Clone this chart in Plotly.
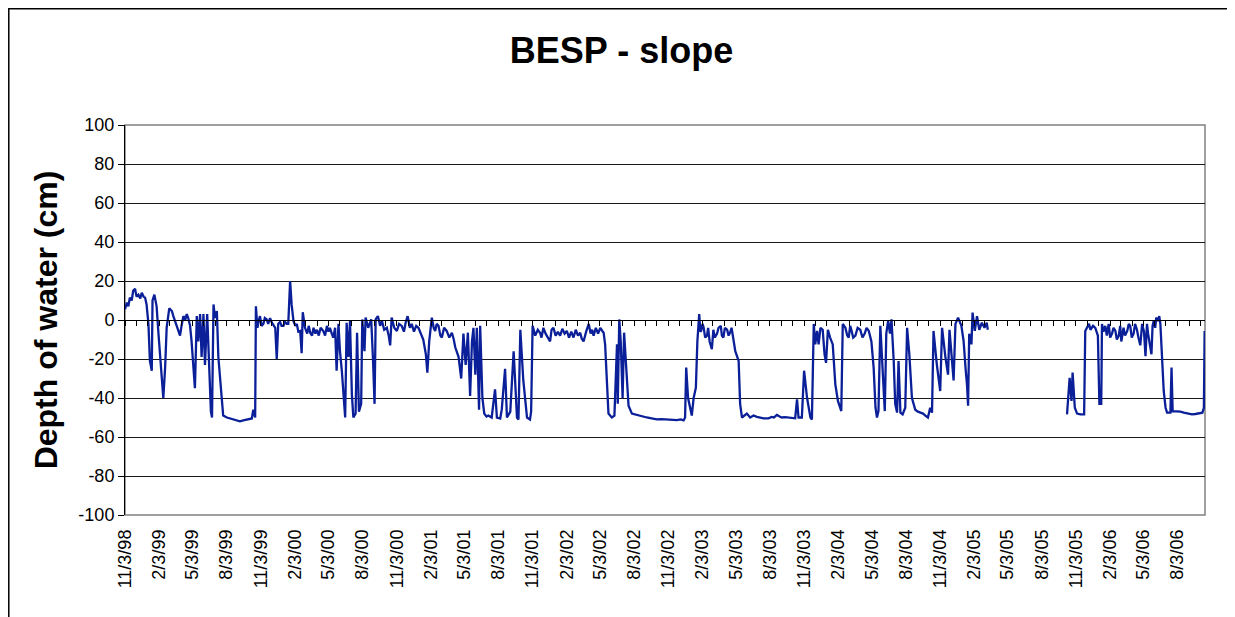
import pandas as pd
import plotly.graph_objects as go

# days after 11/3/98 and water depth (cm); None marks the data gap in 2005
days = [
    0, 5, 9, 13, 18, 22, 27, 31, 36, 41, 45, 50, 54, 58, 63, 67, 72, 74, 79, 85,
    90, 96, 103, 108, 112, 119, 126, 130, 134, 141, 148, 152, 157, 162, 166, 170, 175, 179, 188, 193,
    197, 202, 206, 211, 215, 221, 227, 231, 234, 238, 242, 247, 251, 260, 264, 274, 282, 291, 300, 309,
    318, 327, 335, 341, 345, 350, 352, 356, 360, 363, 367, 372, 376, 381, 385, 390, 395, 400, 404, 408,
    412, 417, 421, 426, 430, 435, 439, 444, 448, 453, 458, 462, 466, 471, 475, 478, 484, 490, 494, 498,
    503, 507, 512, 516, 521, 526, 533, 538, 543, 547, 551, 556, 560, 565, 569, 574, 578, 583, 587, 592,
    596, 601, 605, 610, 614, 620, 624, 629, 635, 638, 644, 647, 654, 662, 667, 671, 674, 680, 686, 691,
    697, 704, 709, 713, 717, 724, 731, 737, 744, 750, 755, 760, 766, 771, 777, 783, 789, 795, 802, 809,
    813, 818, 825, 830, 834, 838, 843, 848, 852, 858, 865, 872, 879, 884, 888, 897, 904, 910, 916, 922,
    928, 933, 937, 942, 946, 952, 955, 961, 966, 972, 977, 986, 995, 1000, 1009, 1013, 1022, 1027, 1036, 1045,
    1054, 1058, 1063, 1071, 1081, 1089, 1092, 1096, 1099, 1103, 1110, 1116, 1120, 1125, 1131, 1139, 1143, 1147, 1152, 1158,
    1164, 1170, 1176, 1182, 1188, 1194, 1200, 1206, 1212, 1218, 1224, 1228, 1233, 1240, 1247, 1252, 1256, 1260, 1266, 1272,
    1278, 1283, 1287, 1291, 1296, 1300, 1309, 1316, 1320, 1323, 1325, 1329, 1333, 1338, 1342, 1348, 1354, 1363, 1372, 1381,
    1392, 1403, 1416, 1430, 1443, 1457, 1470, 1484, 1494, 1502, 1506, 1509, 1514, 1520, 1524, 1529, 1535, 1539, 1544, 1547,
    1549, 1553, 1556, 1560, 1565, 1568, 1572, 1578, 1582, 1586, 1592, 1596, 1602, 1605, 1609, 1613, 1619, 1623, 1627, 1631,
    1635, 1641, 1650, 1654, 1659, 1665, 1672, 1681, 1690, 1699, 1708, 1717, 1730, 1739, 1745, 1753, 1760, 1766, 1775, 1784,
    1793, 1802, 1807, 1811, 1820, 1826, 1834, 1843, 1847, 1852, 1856, 1861, 1865, 1870, 1876, 1881, 1885, 1890, 1896, 1903,
    1910, 1917, 1926, 1930, 1937, 1942, 1946, 1950, 1953, 1958, 1964, 1970, 1977, 1983, 1989, 1994, 2000, 2007, 2013, 2018,
    2022, 2026, 2031, 2037, 2043, 2047, 2052, 2057, 2061, 2067, 2071, 2076, 2080, 2085, 2091, 2098, 2103, 2109, 2116, 2125,
    2132, 2139, 2146, 2152, 2159, 2165, 2170, 2174, 2183, 2192, 2197, 2206, 2213, 2217, 2224, 2228, 2233, 2240, 2249, 2255,
    2260, 2264, 2267, 2270, 2276, 2279, 2285, 2291, 2297, 2304, 2311, 2317, 2320, 2420,
    2533, 2540, 2545, 2548, 2554, 2560, 2569, 2579, 2582, 2587, 2592, 2596, 2603, 2609, 2616, 2620, 2625, 2627, 2631, 2636,
    2640, 2645, 2649, 2654, 2658, 2663, 2667, 2672, 2676, 2679, 2685, 2689, 2695, 2699, 2703, 2707, 2712, 2716, 2721, 2725,
    2730, 2735, 2740, 2744, 2748, 2751, 2755, 2760, 2763, 2766, 2770, 2773, 2778, 2781, 2784, 2789, 2793, 2798, 2802, 2811,
    2814, 2817, 2829, 2838, 2847, 2858, 2869, 2878, 2886, 2897, 2901, 2903,
]
depth = [
    5.5, 9, 7, 11.5, 10, 15, 16, 12, 13, 11, 14, 12, 11.5, 8, -2, -21, -26, 10, 13, 7,
    -7, -24, -40, -24, -4, 6, 4.6, 2, -0.5, -4, -8, -3, 2, 0, 3, 1, -3, -11, -35, 2,
    -11, 3, -19, 3, -23, 3, -26, -47, -50, 8, 1, 4.6, -19, -41.5, -49, -50, -50.5, -51, -51.5, -52,
    -51.5, -51, -50.5, -50.5, -46, -50, 7, -4, 0, 2, -3, -2, 1, 0.3, -2, 1, -1.4, -3, -4, -20,
    -2, -1, -3, -3, -1, -2, -2, 20, 8, -0.5, -3, -2, -6, -5.6, -17, 4, -4, -7, -3, -6.5,
    -8, -4, -7, -5, -8, -4, -5.6, -8, -3, -6, -4, -7, -9, -4, -26, -2, -16, -26, -36, -50,
    -1.4, -19, -0.5, -38, -50, -48, -6.5, -47, -43, 0.3, -16, 1.2, -4, 0.3, -21, -43, 0.3, 2, -3, -0.5,
    -5, -4, -8, -13, 1.2, -4, -5.6, -2, -3, -6, -1, 2, -4, -2, -6, -3, -4, -7, -10, -17.6,
    -27, -11, 1.2, -4, -5.6, -2, -3, -8, -9, -4, -5.6, -9, -6.5, -10, -14, -19, -30, -7, -23, -6.5,
    -39, -11, -4, -28, -4, -46, -3, -40, -48, -49.5, -49, -50, -35.6, -50, -50.5, -46, -25, -50, -47, -16,
    -50, -51, -5, -31, -50, -51, -47, -3, -6, -8, -5, -6.5, -9, -4, -7, -10, -11, -5, -4, -8,
    -6, -8, -4.5, -7, -5.6, -9, -6, -9, -5, -8, -6.5, -9.5, -11, -6, -2, -7, -5, -8, -4, -7,
    -4, -5.5, -6.5, -12.5, -31, -48, -50, -49, -28, -12.5, -43, 0.3, -11, -40, -6.5, -26, -44, -48, -48.5, -49,
    -49.5, -50, -50.5, -51, -50.8, -51, -51.2, -51.3, -51, -51.5, -50, -24.4, -40, -45, -49, -40, -34.7, -11, 3, -6,
    -5.6, -2, -4, -9, -8, -4, -11, -15, -5, -9, -7, -4, -3, -8, -9, -4, -5, -8, -6.5, -4,
    -9, -16, -21, -43, -50, -49, -48, -50, -49, -49.7, -50, -50.4, -50.4, -49.7, -50, -48.7, -49.5, -50, -49.8, -50,
    -50.2, -50.4, -40.7, -50, -50, -26, -40, -50, -51, -2, -12.5, -5.6, -12.5, -4, -5, -17.6, -22, -5, -9, -12.5,
    -33, -41.5, -46.7, -2, -4, -8, -9, -3, -5, -9, -8, -4, -5, -9, -7, -4, -5.6, -11, -24.4, -45,
    -50, -46.7, -3, -24.4, -46.7, -7, -0.5, -7, 0.3, -21, -43, -47.5, -21, -47.5, -48.4, -45, -4, -17.6, -40, -46,
    -47, -47.5, -48, -49, -50, -45, -47.5, -5.6, -23, -36.4, -4, -19, -28, -5, -19, -31, -2, 1.2, -3, -11,
    -24.4, -33, -44, -7, -12.5, 3.8, -5.6, 2, -5, -1.4, -4, -1.4, -5, None,
    -48.4, -29.6, -41.5, -27, -45, -48, -48.4, -48.4, -5.6, -4, -2, -5, -3, -4, -8, -43, -43, -2, -6, -3,
    -8, -2, -9, -7, -4, -5.6, -10, -8, -3, -11, -4, -8, -5.6, -2, -3, -9, -7, -2, -5, -9,
    -13, -2, -6, -18.5, -2, -7, -11, -17.6, -3, -0.5, -4, 1.2, -0.5, 2, -2, -19, -36.4, -45, -47.5, -47.5,
    -24.4, -46.7, -46.7, -47, -47.5, -48, -48.4, -48.2, -48, -47.5, -45, -5.6,
]

start_date = "1998-11-03"
tick_labels = [
    "11/3/98", "2/3/99", "5/3/99", "8/3/99", "11/3/99", "2/3/00", "5/3/00", "8/3/00",
    "11/3/00", "2/3/01", "5/3/01", "8/3/01", "11/3/01", "2/3/02", "5/3/02", "8/3/02",
    "11/3/02", "2/3/03", "5/3/03", "8/3/03", "11/3/03", "2/3/04", "5/3/04", "8/3/04",
    "11/3/04", "2/3/05", "5/3/05", "8/3/05", "11/3/05", "2/3/06", "5/3/06", "8/3/06",
]
y_ticks = [-100, -80, -60, -40, -20, 0, 20, 40, 60, 80, 100]
y_tick_labels = ["-100", "-80", "-60", "-40", "-20", "0", "20", "40", "60", "80", "100"]

dates = pd.to_datetime(start_date) + pd.to_timedelta(days, unit="D")
tick_dates = pd.to_datetime(tick_labels, format="%m/%d/%y")
x_range = ["1998-11-03", "2006-10-16"]

FONT = "Arial, Liberation Sans, sans-serif"

fig = go.Figure()
fig.add_trace(go.Scatter(
    x=dates, y=depth, mode="lines",
    line=dict(color="#0b1f99", width=2.3),
    connectgaps=False, showlegend=False, hoverinfo="x+y",
))
# empty trace so the zero-line tick axis gets drawn
fig.add_trace(go.Scatter(x=[], y=[], xaxis="x2", showlegend=False))

fig.update_layout(
    width=1227, height=609,
    paper_bgcolor="white", plot_bgcolor="white",
    margin=dict(l=117, r=30, t=117, b=102),
    font=dict(family=FONT, color="black", size=18),
    title=dict(
        text="BESP - slope", xref="container", x=0.5, xanchor="center",
        yref="container", y=0.931, yanchor="middle",
        font=dict(family=FONT, size=36, weight="bold", color="black"),
    ),
    xaxis=dict(
        type="date", range=x_range,
        tickmode="array", tickvals=tick_dates, ticktext=tick_labels,
        tickangle=-90, tickfont=dict(size=18),
        showgrid=False, zeroline=False, showline=False, ticks="",
        ticklabelstandoff=10,
    ),
    xaxis2=dict(
        type="date", range=x_range, overlaying="x", anchor="free", position=0.5,
        tick0="1998-11-03", dtick="M1", ticks="outside", ticklen=5, tickwidth=1,
        tickcolor="black", showticklabels=False, showgrid=False, zeroline=False,
        showline=True, linecolor="black", linewidth=1,
    ),
    yaxis=dict(
        range=[-100, 100], tickmode="array", tickvals=y_ticks, ticktext=y_tick_labels,
        showgrid=True, gridcolor="#1a1a1a", gridwidth=1,
        zeroline=False, showline=True, linecolor="black", linewidth=1,
        ticks="outside", ticklen=6, tickcolor="black",
        tickfont=dict(size=18),
        title=dict(text="Depth of water (cm)", standoff=11,
                   font=dict(family=FONT, size=32, weight="bold", color="black")),
    ),
    shapes=[
        # plot area border
        dict(type="rect", xref="paper", yref="paper", x0=0, x1=1, y0=0, y1=1,
             line=dict(color="#808080", width=1.5), layer="below"),
        # chart frame
        dict(type="rect", xref="paper", yref="paper", x0=-0.1076, x1=1.025,
             y0=-0.3, y1=1.298, line=dict(color="black", width=1.5), layer="below"),
    ],
)

fig.write_html("out.html")
